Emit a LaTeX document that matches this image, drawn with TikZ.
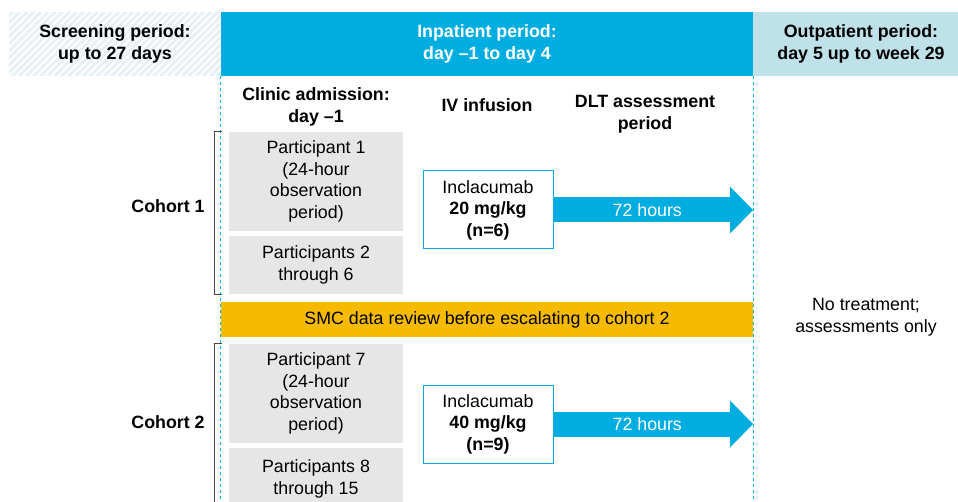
\documentclass[tikz,border=0pt]{standalone}
\usepackage{fontspec}
\setmainfont{Liberation Sans}
\usetikzlibrary{arrows.meta,patterns.meta}

\definecolor{infblue}{RGB}{0,173,224}
\definecolor{outblue}{RGB}{191,226,234}
\definecolor{scrblue}{RGB}{232,240,245}
\definecolor{boxgray}{RGB}{230,230,230}
\definecolor{smcgold}{RGB}{246,186,0}
\definecolor{brackgray}{RGB}{70,70,70}

\begin{document}
\begin{tikzpicture}[x=1pt, y=-1pt,
    font=\fontsize{17.8}{21.6}\selectfont,
    every node/.style={align=center, inner sep=0pt},
    head/.style={font=\fontsize{17.8}{21.6}\selectfont\bfseries},
    band/.style={head, minimum height=64pt},
    part/.style={fill=boxgray, minimum width=174pt},
    dose/.style={draw=infblue, line width=1pt, fill=white, minimum width=130pt, minimum height=78pt},
    hours/.style={line width=25pt, infblue, -{Triangle[width=47pt, length=23pt, line width=0pt]}},
    divider/.style={infblue, dashed, line width=0.9pt},
    bracket/.style={draw=brackgray, line width=1pt}]
    \useasboundingbox (0,0) rectangle (958,502);
    \clip (0,0) rectangle (958,502);

    % period bands
    \node[band, fill=scrblue, minimum width=212pt] (scr) at (115,44) {};
    \fill[pattern={Lines[angle=45, distance=5pt, line width=1.8pt]}, pattern color=white]
        (scr.north west) rectangle (scr.south east);
    \node[head] at (scr) {Screening period:\\up to 27 days};
    \node[band, fill=infblue, text=white, minimum width=532pt] (inp) at (487,44) {Inpatient period:\\day –1 to day 4};
    \node[band, fill=outblue, minimum width=205pt] (outp) at (855.5,44) {};
    \node[head] at (861,44) {Outpatient period:\\day 5 up to week 29};

    \draw[divider] (inp.south west) -- ++(0,440);
    \draw[divider] (inp.south east) -- ++(0,440);

    % column titles
    \node[head] (adm) at (316,107) {Clinic admission:\\day –1};
    \node[head] (ivt) at (487,105) {IV infusion};
    \node[head] (dlt) at (645,114) {DLT assessment\\period};

    % participants
    \node[part, minimum height=99pt] (p1) at (316,181.5) {Participant 1\\(24-hour\\observation\\period)};
    \node[part, minimum height=58pt] (p2) at (316,265) {Participants 2\\through 6};
    \node[part, minimum height=99pt] (p7) at (316,393.5) {Participant 7\\(24-hour\\observation\\period)};
    \node[part, minimum height=62pt] (p8) at (316,479) {Participants 8\\through 15};

    \node[fill=smcgold, minimum width=532pt, minimum height=35pt] (smc) at (487,319.5) {SMC data review before escalating to cohort 2};

    % doses and assessment arrows
    \node[dose] (d1) at (488,210) {Inclacumab\\\textbf{20 mg/kg}\\\textbf{(n=6)}};
    \node[dose] (d2) at (488,424) {Inclacumab\\\textbf{40 mg/kg}\\\textbf{(n=9)}};
    \coordinate (e1) at (753,210);
    \coordinate (e2) at (753,424);
    \draw[hours] (d1.east) -- (e1) node[pos=0.47, text=white] {72 hours};
    \draw[hours] (d2.east) -- (e2) node[pos=0.47, text=white] {72 hours};

    % cohorts
    \draw[bracket] ([xshift=-7pt]p1.north west) -- ++(-7,0) |- ([xshift=-7pt]p2.south west);
    \draw[bracket] ([xshift=-7pt]p7.north west) -- ++(-7,0) -- ++(0,170);
    \node[head] (c1) at (168,206) {Cohort 1};
    \node[head] (c2) at (168,422) {Cohort 2};

    \node (nt) at (866,317) {No treatment;\\assessments only};
\end{tikzpicture}
\end{document}
